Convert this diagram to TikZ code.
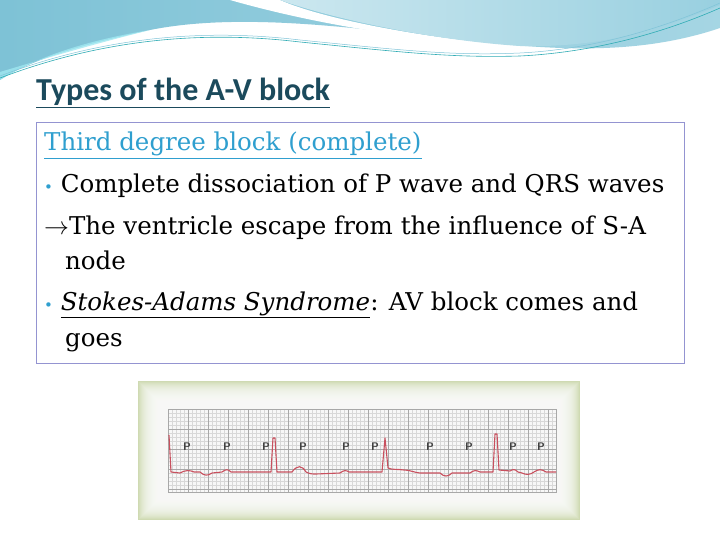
\documentclass[tikz,border=0pt]{standalone}
\usepackage{fontspec}
\setmainfont{DejaVu Serif}
\newfontfamily\titlefont{Carlito}
\newcommand\myul[1]{$\underline{\hbox{#1}}$}
\definecolor{ttl}{HTML}{1B4A5C}
\definecolor{hdblue}{HTML}{2F9FCF}
\definecolor{wave1}{HTML}{7FC4D8}
\definecolor{wave2}{HTML}{5FD8E8}
\definecolor{ecg}{HTML}{C8505E}
\definecolor{gridc}{HTML}{A8A8A8}
\definecolor{frame}{HTML}{C9D5A8}
\tikzset{body/.style={anchor=base west,font=\fontsize{24.5}{26}\selectfont,inner sep=0},
plab/.style={font=\sffamily\bfseries\fontsize{11}{11}\selectfont,text=black!75,inner sep=0},
fine/.style={gridc!45,line width=.2}, major/.style={gridc,line width=.4}}
\begin{document}
\begin{tikzpicture}[x=1pt,y=-1pt]
\useasboundingbox (0,0) rectangle (720,540);
\fill[white] (0,0) rectangle (720,540);
% header waves
\shade[left color=wave1!90!black!10!wave1, right color=wave1!70!white] (0,0) -- (720,0) -- (720,28) .. controls (640,55) and (560,50) .. (480,42) .. controls (380,32) and (250,10) .. (150,30) .. controls (80,45) and (30,60) .. (0,80) -- cycle;
\fill[wave2!60!white,opacity=.8] (0,80) .. controls (40,55) and (90,40) .. (150,30) .. controls (90,45) and (40,60) .. (0,72) -- cycle;
\fill[white] (230,0) .. controls (300,20) and (400,40) .. (520,46) .. controls (420,38) and (320,18) .. (280,0) -- cycle;
\shade[left color=wave1!40!white,right color=wave1!80!white] (280,0) .. controls (330,18) and (430,40) .. (520,46) .. controls (600,48) and (660,30) .. (720,5) -- (720,0) -- cycle;
\draw[wave2!50!teal,line width=.6] (0,78) .. controls (100,40) and (200,30) .. (300,42) .. controls (400,52) and (450,58) .. (520,56) .. controls (600,52) and (670,30) .. (720,8);
\draw[wave1,line width=.5] (0,76) .. controls (100,38) and (200,28) .. (300,40) .. controls (400,50) and (450,56) .. (520,53) .. controls (600,49) and (670,25) .. (720,3);
% title
\node[anchor=base west,inner sep=0,text=ttl,font=\titlefont\bfseries\fontsize{32}{33}\selectfont] (title) at (36,101) {\myul{Types of the A-V block}};
% box
\draw[gray!60!blue!60,line width=.8] (36,122) rectangle (684,363);
\node[body,text=hdblue] (l1) at (44,151) {\myul{Third degree block (complete)}};
\node[body] (l2) at (44,193) {\textcolor{hdblue}{\fontsize{15}{15}\selectfont\textbullet}\ Complete dissociation of P wave and QRS waves};
\node[body] (l3) at (44,235) {$\rightarrow$The ventricle escape from the influence of S-A};
\node[body] (l4) at (65,269) {node};
\node[body] (l5) at (44,310) {\textcolor{hdblue}{\fontsize{15}{15}\selectfont\textbullet}\ \myul{\itshape Stokes-Adams Syndrome}: AV block comes and};
\node[body] (l6) at (65,346) {goes};
% ECG frame
\fill[frame] (138,381) rectangle (580,520);
\foreach \i in {0,...,20}
  \fill[white,opacity=0.12] (138+\i,381+\i) rectangle (580-\i,520-\i);
\fill[gray!6] (168,409) rectangle (556,492);
\foreach \x in {168,172,...,556} \draw[fine] (\x,409) -- (\x,492);
\foreach \y in {409,413,...,492} \draw[fine] (168,\y) -- (556,\y);
\foreach \x in {168,188,...,556} \draw[major] (\x,409) -- (\x,492);
\foreach \y in {409,429,...,492} \draw[major] (168,\y) -- (556,\y);
\draw[gridc,line width=.5] (168,409) rectangle (556,492);
\foreach \x in {187,227,266,303,346,375,430,469,513,541}
  \node[plab] at (\x,447) {P};
\draw[ecg,line width=1.1,line join=round] (169,435) -- (171,472) -- (180,473) .. controls (185,470) and (190,470) .. (194,472) -- (200,472) .. controls (204,476) and (208,476) .. (212,473) -- (222,472) .. controls (226,469) and (228,469) .. (231,472) -- (271,472) -- (273,438) -- (275,438) -- (277,472) -- (292,472) .. controls (297,465) and (302,465) .. (306,472) .. controls (310,474) and (312,474) .. (316,474) -- (340,473) .. controls (344,470) and (346,470) .. (349,472) -- (382,472) -- (385,438) -- (388,468) .. controls (392,470) and (398,469) .. (404,470) .. controls (410,470) and (412,472) .. (420,473) -- (440,473) .. controls (444,477) and (448,477) .. (452,473) -- (470,473) .. controls (474,470) and (476,470) .. (480,472) -- (493,472) -- (495,434) -- (497,434) -- (499,470) -- (510,471) .. controls (513,469) and (515,469) .. (518,472) -- (522,473) .. controls (526,475) and (530,475) .. (534,472) .. controls (538,469) and (542,469) .. (546,472) -- (556,472);
\end{tikzpicture}
\end{document}
